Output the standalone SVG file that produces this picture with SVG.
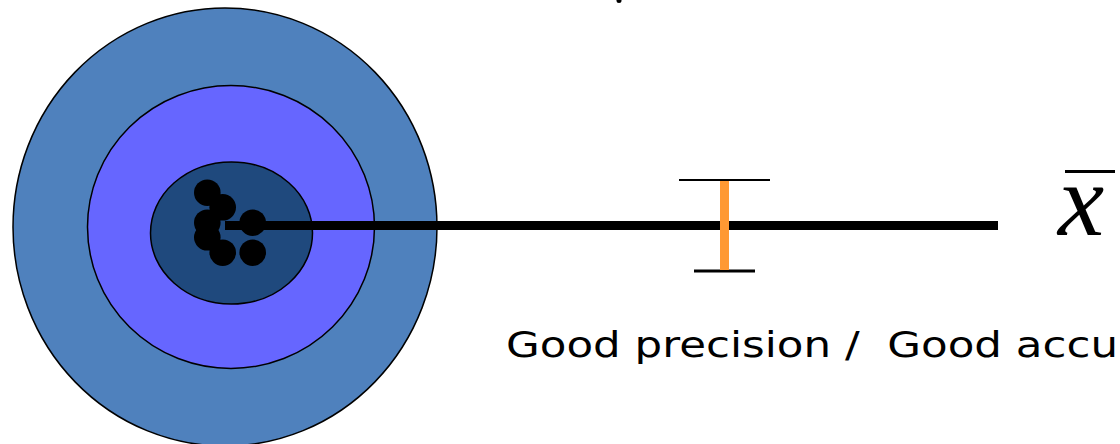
<svg xmlns="http://www.w3.org/2000/svg" width="1120" height="444" viewBox="0 0 1120 444">
<style>
.ring{stroke:#000;stroke-width:1.5}
.dot{fill:#000}
.lbl{font-family:"DejaVu Sans","Liberation Sans",sans-serif;font-size:35px;fill:#000;white-space:pre}
</style>
<rect width="1120" height="444" fill="#fff"/>
<g id="target">
<ellipse class="ring" cx="225" cy="227" rx="212" ry="219" fill="#4F81BD"/>
<ellipse class="ring" cx="231" cy="227" rx="143.5" ry="141.5" fill="#6666FF"/>
<ellipse class="ring" cx="231.5" cy="233" rx="81" ry="71" fill="#1F497D"/>
</g>
<g id="connectors">
<line x1="225" y1="225.5" x2="998" y2="225.5" stroke="#000" stroke-width="9"/>
</g>
<g id="dots">
<circle class="dot" cx="207.3" cy="192.7" r="13.3"/>
<circle class="dot" cx="222.7" cy="207.3" r="13.3"/>
<circle class="dot" cx="207.3" cy="222.7" r="13.3"/>
<circle class="dot" cx="207.3" cy="237.3" r="13.3"/>
<circle class="dot" cx="222.7" cy="252.7" r="13.3"/>
<circle class="dot" cx="252.7" cy="222.7" r="13.3"/>
<circle class="dot" cx="252.7" cy="252.7" r="13.3"/>
</g>
<g id="errorbar">
<line x1="679" y1="180" x2="770" y2="180" stroke="#000" stroke-width="2"/>
<line x1="694" y1="271" x2="755" y2="271" stroke="#000" stroke-width="3"/>
<line x1="724.5" y1="181" x2="724.5" y2="270" stroke="#FF9933" stroke-width="9"/>
</g>
<g id="xbar">
<line x1="1065" y1="171.5" x2="1115" y2="171.5" stroke="#000" stroke-width="3"/>
<text x="1058" y="235" font-family="Liberation Serif, serif" font-style="italic" font-size="104" fill="#000">x</text>
</g>
<circle cx="619" cy="0.5" r="2.5" fill="#000"/>
<g id="label">
<text class="lbl" x="506" y="357" xml:space="preserve" textLength="612" lengthAdjust="spacingAndGlyphs">Good precision /  Good accu</text>
</g>
</svg>
